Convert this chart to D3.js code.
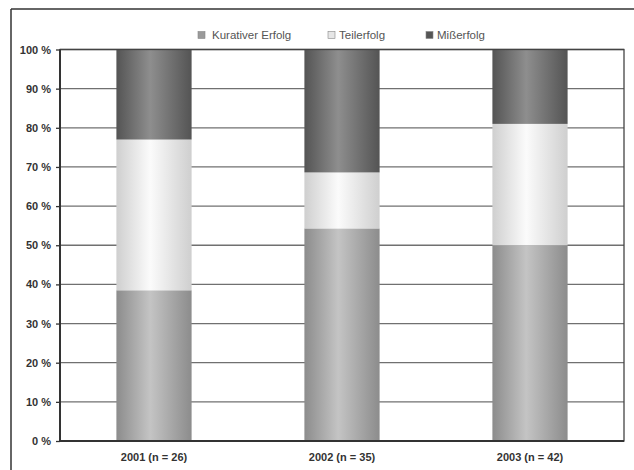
<!DOCTYPE html>
<html><head><meta charset="utf-8">
<script src="https://cdn.jsdelivr.net/npm/d3@7"></script>
<style>body{margin:0;background:#fff}svg{display:block}</style>
</head><body>
<script>
const categories = ["2001 (n = 26)", "2002 (n = 35)", "2003 (n = 42)"];
const seriesNames = ["Kurativer Erfolg", "Teilerfolg", "Mißerfolg"];
const kurativ = [38.5, 54.3, 50.0];
const teil = [38.5, 14.3, 31.0];
const miss = [23.0, 31.4, 19.0];
const yTicks = [0,10,20,30,40,50,60,70,80,90,100];

const W = 634, H = 470;
const m = {left: 60, right: 10, top: 49.5, bottom: 29};
const svg = d3.select("body").append("svg").attr("width", W).attr("height", H);

const defs = svg.append("defs");
const grads = [
  {id:"gK", edge:"#8c8c8c", mid:"#c4c4c4"},
  {id:"gT", edge:"#cfcfcf", mid:"#fbfbfb"},
  {id:"gM", edge:"#545454", mid:"#8e8e8e"}
];
grads.forEach(g => {
  const lg = defs.append("linearGradient").attr("id", g.id).attr("x1","0").attr("x2","1").attr("y1","0").attr("y2","0");
  lg.append("stop").attr("offset","0%").attr("stop-color", g.edge);
  lg.append("stop").attr("offset","45%").attr("stop-color", g.mid);
  lg.append("stop").attr("offset","100%").attr("stop-color", g.edge);
});

// outer frame
svg.append("line").attr("x1",11).attr("x2",11).attr("y1",9).attr("y2",H).attr("stroke","#333").attr("stroke-width",1.5);
svg.append("line").attr("x1",11).attr("x2",W).attr("y1",9).attr("y2",9).attr("stroke","#333").attr("stroke-width",1.5);

const x = d3.scaleBand().domain(categories).range([m.left, W - m.right]).paddingInner(0.6).paddingOuter(0.3);
const y = d3.scaleLinear().domain([0,100]).range([H - m.bottom, m.top]);

// gridlines
svg.append("g").selectAll("line").data(yTicks).join("line")
  .attr("x1", m.left).attr("x2", W - m.right)
  .attr("y1", d => y(d)).attr("y2", d => y(d))
  .attr("stroke", "#707070").attr("stroke-width", 1.3);

// stacked data
const rows = categories.map((c,i) => ({cat:c, "Kurativer Erfolg":kurativ[i], "Teilerfolg":teil[i], "Mißerfolg":miss[i]}));
const stack = d3.stack().keys(seriesNames)(rows);
const fills = ["url(#gK)", "url(#gT)", "url(#gM)"];
svg.append("g").selectAll("g").data(stack).join("g")
  .attr("fill", (d,i) => fills[i])
  .selectAll("rect").data(d => d).join("rect")
  .attr("x", d => x(d.data.cat))
  .attr("width", x.bandwidth())
  .attr("y", d => y(d[1]))
  .attr("height", d => y(d[0]) - y(d[1]));

// plot frame
svg.append("rect").attr("x", m.left).attr("y", m.top)
  .attr("width", W - m.right - m.left).attr("height", y(0) - m.top)
  .attr("fill","none").attr("stroke","#444").attr("stroke-width",1.3);
svg.append("line").attr("x1", m.left).attr("x2", m.left).attr("y1", m.top).attr("y2", y(0)).attr("stroke","#333").attr("stroke-width",2);
svg.append("line").attr("x1", m.left).attr("x2", W - m.right).attr("y1", y(0)).attr("y2", y(0)).attr("stroke","#333").attr("stroke-width",2);

// y axis
const yAxis = svg.append("g").attr("transform", `translate(${m.left},0)`)
  .call(d3.axisLeft(y).tickValues(yTicks).tickFormat(d => d + " %").tickSize(4).tickPadding(5));
yAxis.select(".domain").remove();
yAxis.selectAll(".tick line").attr("stroke","#333").attr("stroke-width",1.3);
yAxis.selectAll("text").attr("font-family","Liberation Sans, Arial, sans-serif").attr("font-size",11).attr("font-weight","bold").attr("fill","#333");

// x axis
const xAxis = svg.append("g").attr("transform", `translate(0,${y(0)})`)
  .call(d3.axisBottom(x).tickSize(0).tickPadding(12));
xAxis.select(".domain").remove();
xAxis.selectAll("text").attr("font-family","Liberation Sans, Arial, sans-serif").attr("font-size",11).attr("font-weight","bold").attr("fill","#333");

// legend
const legX = [198, 328, 426];
const legFill = ["#9a9a9a", "#e6e6e6", "#555"];
const leg = svg.append("g").selectAll("g").data(seriesNames).join("g")
  .attr("transform", (d,i) => `translate(${legX[i]},35)`);
leg.append("rect").attr("x",0).attr("y",-3.5).attr("width",7).attr("height",7)
  .attr("fill", (d,i) => legFill[i]).attr("stroke","#888").attr("stroke-width",0.6);
leg.append("text").attr("x",(d,i) => i === 0 ? 14 : 11).attr("y",0).attr("dy","0.35em")
  .attr("font-family","Liberation Sans, Arial, sans-serif").attr("font-size",11.5).attr("fill","#555")
  .text(d => d);
</script>
</body></html>
